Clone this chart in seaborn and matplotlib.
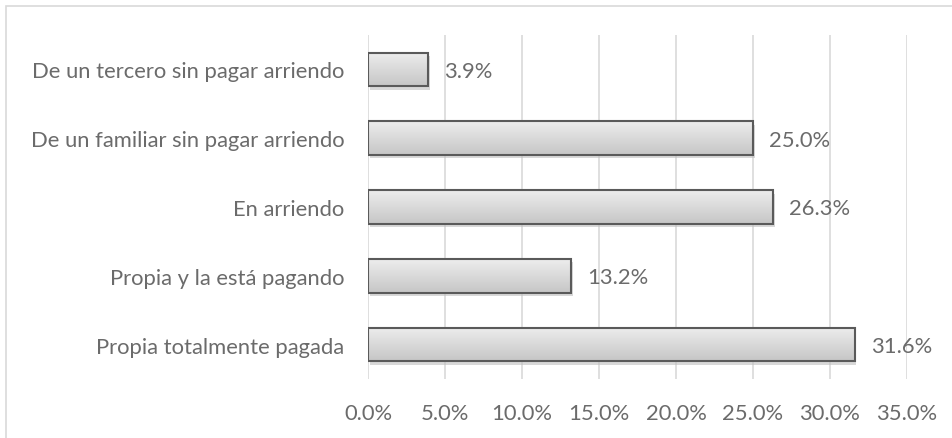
import numpy as np
import matplotlib
matplotlib.use("Agg")
import matplotlib.pyplot as plt
import seaborn as sns
from matplotlib.patches import Rectangle

# datos
categorias = [
    "De un tercero sin pagar arriendo",
    "De un familiar sin pagar arriendo",
    "En arriendo",
    "Propia y la está pagando",
    "Propia totalmente pagada",
]
porcentajes = [3.9, 25.0, 26.3, 13.2, 31.6]
ticks_x = [0, 5, 10, 15, 20, 25, 30, 35]

sns.set_style("white")
plt.rcParams["font.family"] = ["Lato", "DejaVu Sans"]
gris = "#6b6b6b"
tam = 15.8

fig = plt.figure(figsize=(9.52, 4.39), dpi=100)
ax = fig.add_axes([368 / 952, 1 - 380 / 439, (907 - 368) / 952, (380 - 36) / 439])

sns.barplot(x=porcentajes, y=categorias, orient="h", ax=ax, width=0.49,
            color="#d9d9d9", edgecolor="#5a5a5a", linewidth=1.5, saturation=1, zorder=3)

# degradado y sombra en cada barra
grad = np.linspace(0, 1, 100).reshape(-1, 1)
cmap = matplotlib.colors.LinearSegmentedColormap.from_list("g", ["#ededed", "#c6c6c6"])
for p in ax.patches:
    x0, y0 = p.get_x(), p.get_y()
    w, h = p.get_width(), p.get_height()
    sombra = Rectangle((x0 + 0.12, y0 + 0.05), w, h, facecolor="#bfbfbf",
                       edgecolor="none", alpha=0.6, zorder=2)
    ax.add_patch(sombra)
    im = ax.imshow(grad, extent=[x0, x0 + w, y0 + h, y0], aspect="auto", cmap=cmap, zorder=3.5)
    im.set_clip_path(p)
    p.set_facecolor("none")
    p.set_zorder(4)

for i, v in enumerate(porcentajes):
    ax.text(v + 1.05, i + 0.02, f"{v:.1f}%", va="center", ha="left", fontsize=tam, color=gris, zorder=5)

ax.set_xlim(0, 35)
ax.set_ylim(4.5, -0.5)
ax.set_xticks(ticks_x)
ax.set_xticklabels([f"{t:.1f}%" for t in ticks_x])
ax.grid(axis="x", color="#d9d9d9", linewidth=1.2, zorder=0)
ax.set_axisbelow(True)
for s in ax.spines.values():
    s.set_visible(False)
ax.tick_params(axis="both", length=0, labelsize=tam, labelcolor=gris)
ax.tick_params(axis="y", pad=17)
ax.tick_params(axis="x", pad=17)
ax.set_xlabel("")
ax.set_ylabel("")

# borde del área del gráfico
fig.patches.append(Rectangle((6 / 952, -0.1), 1.2, 1 - 7 / 439 + 0.1, transform=fig.transFigure,
                             fill=False, edgecolor="#d9d9d9", linewidth=1.2))

fig.savefig("out.png", dpi=100)
